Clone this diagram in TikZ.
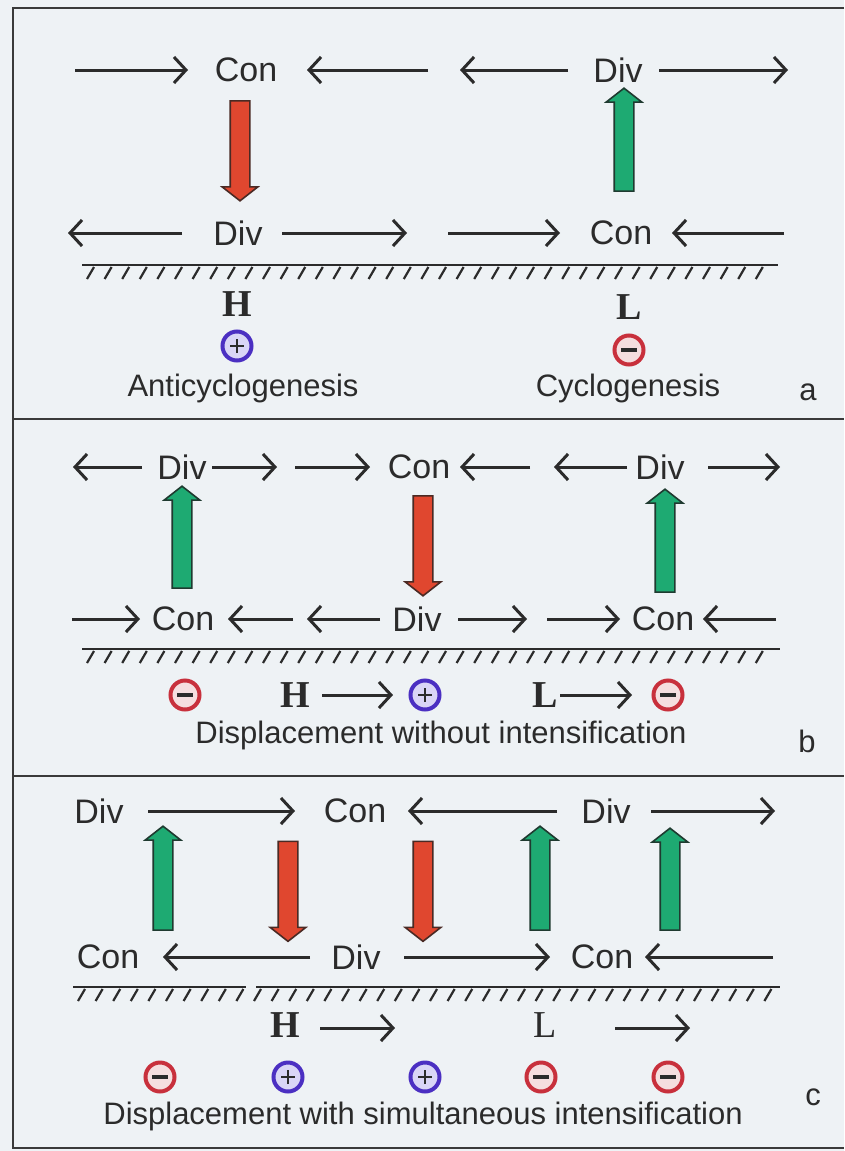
\documentclass[tikz,border=0pt]{standalone}
\usepackage{fontspec}
\setmainfont{Liberation Sans}
\newfontfamily\serifhl{Liberation Serif}
\usetikzlibrary{arrows.meta,shapes.arrows}
\definecolor{bgc}{HTML}{EEF2F5}
\definecolor{ink}{HTML}{2B2B2B}
\definecolor{framec}{HTML}{3A3A3A}
\definecolor{redf}{HTML}{E0472F}
\definecolor{redo}{HTML}{4A2A24}
\definecolor{greenf}{HTML}{1EAA72}
\definecolor{greeno}{HTML}{1F3A30}
\definecolor{blueo}{HTML}{4B2FC2}
\definecolor{bluef}{HTML}{D9D5F6}
\definecolor{redco}{HTML}{C8303C}
\definecolor{redcf}{HTML}{F5DEDF}
\newcommand\harrow[4]{\coordinate (#1s) at (#2,#4); \coordinate (#1e) at (#3,#4); \draw[harr] (#1s) -- (#1e);}
\begin{document}
\begin{tikzpicture}[x=1pt,y=-1pt,
  lab/.style={font=\fontsize{34}{34}\selectfont, text=ink, inner sep=0pt},
  captxt/.style={font=\fontsize{31}{31}\selectfont, text=ink, inner sep=0pt, anchor=base},
  hl/.style={font=\serifhl\bfseries\fontsize{38}{38}\selectfont, text=ink, inner sep=0pt},
  hlr/.style={font=\serifhl\fontsize{38}{38}\selectfont, text=ink, inner sep=0pt},
  harr/.style={draw=ink, line width=3pt, -{Straight Barb[length=12pt,width=26pt]}},
  framel/.style={draw=framec, line width=2.2pt},
  groundl/.style={draw=ink, line width=2.6pt},
  hatch/.style={draw=ink, line width=2.2pt},
  blockarr/.style={single arrow, line width=1.6pt, minimum height=#1, single arrow head extend=8pt,
     inner xsep=0pt, inner ysep=9pt, single arrow tip angle=104},
  uparr/.style={blockarr=#1, draw=greeno, fill=greenf, rotate=90},
  downarr/.style={blockarr=#1, draw=redo, fill=redf, rotate=-90},
  plusc/.style={circle, draw=blueo, fill=bluef, line width=4pt, minimum size=29pt, inner sep=0pt,
     path picture={\draw[line width=2.8pt, ink]
       ([xshift=-7pt]path picture bounding box.center) -- ([xshift=7pt]path picture bounding box.center)
       ([yshift=-7pt]path picture bounding box.center) -- ([yshift=7pt]path picture bounding box.center);}},
  minusc/.style={circle, draw=redco, fill=redcf, line width=4pt, minimum size=29pt, inner sep=0pt,
     path picture={\draw[line width=3.4pt, ink]
       ([xshift=-8pt]path picture bounding box.center) -- ([xshift=8pt]path picture bounding box.center);}}
]
\fill[bgc] (0,0) rectangle (844,1151);
\useasboundingbox (0,0) rectangle (844,1151);
% frame
\draw[framel] (844,8) -- (13,8) -- (13,1148) -- (844,1148);
\draw[framel] (13,419) -- (844,419);
\draw[framel] (13,776) -- (844,776);

% ================= panel a =================
\harrow{a1}{75}{188}{70}
\node[lab] (aCon1) at (246,70) {Con};
\harrow{a2}{428}{307}{70}
\harrow{a3}{568}{460}{70}
\node[lab] (aDiv1) at (618,70) {Div};
\harrow{a4}{659}{788}{70}
\harrow{a5}{182}{68}{233}
\node[lab] (aDiv2) at (238,233) {Div};
\harrow{a6}{282}{407}{233}
\harrow{a7}{448}{560}{233}
\node[lab] (aCon2) at (621,233) {Con};
\harrow{a8}{784}{672}{233}
\node[downarr=100pt] (aRed) at (240,147) {};
\node[uparr=103pt] (aGreen) at (624,143.5) {};
\draw[groundl] (82,265) -- (778,265);
\foreach \i in {0,...,38} {\draw[hatch] ({94+17.6*\i},267) -- ++(-7,12);}
\node[hl] (aH) at (237,304) {H};
\node[plusc] (aPlus) at (237,346) {};
\node[hl] (aL) at (629,307) {L};
\node[minusc] (aMinus) at (629,350) {};
\node[captxt] (aCap1) at (243,396) {Anticyclogenesis};
\node[captxt] (aCap2) at (628,396) {Cyclogenesis};
\node[captxt] (aLet) at (808,400) {a};

% ================= panel b =================
\harrow{b1}{142}{73}{467}
\node[lab] (bDiv1) at (182,467) {Div};
\harrow{b2}{212}{277}{467}
\harrow{b3}{295}{370}{467}
\node[lab] (bCon1) at (419,467) {Con};
\harrow{b4}{530}{460}{467}
\harrow{b5}{627}{554}{467}
\node[lab] (bDiv2) at (660,467) {Div};
\harrow{b6}{708}{780}{467}
\harrow{b7}{72}{140}{619}
\node[lab] (bCon2) at (183,619) {Con};
\harrow{b8}{293}{228}{619}
\harrow{b9}{380}{307}{619}
\node[lab] (bDiv3) at (417,619) {Div};
\harrow{b10}{458}{527}{619}
\harrow{b11}{547}{620}{619}
\node[lab] (bCon3) at (663,619) {Con};
\harrow{b12}{776}{703}{619}
\node[uparr=102pt] (bGreen1) at (182,541) {};
\node[downarr=100pt] (bRed) at (423,542) {};
\node[uparr=103pt] (bGreen2) at (665,544.5) {};
\draw[groundl] (82,649) -- (780,649);
\foreach \i in {0,...,38} {\draw[hatch] ({94+17.6*\i},651) -- ++(-7,12);}
\node[minusc] (bMinus1) at (185,695) {};
\node[hl] (bH) at (295,695) {H};
\harrow{b13}{322}{393}{695}
\node[plusc] (bPlus) at (425,695) {};
\node[hl] (bL) at (545,695) {L};
\harrow{b14}{560}{632}{695}
\node[minusc] (bMinus2) at (668,695) {};
\node[captxt] (bCap) at (441,743) {Displacement without intensification};
\node[captxt] (bLet) at (807,752) {b};

% ================= panel c =================
\node[lab] (cDiv1) at (99,811) {Div};
\harrow{c1}{148}{295}{811}
\node[lab] (cCon1) at (355,811) {Con};
\harrow{c2}{557}{408}{811}
\node[lab] (cDiv2) at (606,811) {Div};
\harrow{c3}{651}{775}{811}
\node[lab] (cCon2) at (108,957) {Con};
\harrow{c4}{310}{163}{957}
\node[lab] (cDiv3) at (356,957) {Div};
\harrow{c5}{404}{550}{957}
\node[lab] (cCon3) at (602,957) {Con};
\harrow{c6}{773}{645}{957}
\node[uparr=104pt] (cGreen1) at (163,882) {};
\node[downarr=100pt] (cRed1) at (288,887.5) {};
\node[downarr=100pt] (cRed2) at (423,887.5) {};
\node[uparr=104pt] (cGreen2) at (540,882) {};
\node[uparr=102pt] (cGreen3) at (670,883) {};
\draw[groundl] (73,987) -- (246,987);
\draw[groundl] (256,987) -- (780,987);
\foreach \i in {0,...,39} {\draw[hatch] ({85+17.6*\i},989) -- ++(-7,12);}
\node[hl] (cH) at (285,1025) {H};
\harrow{c7}{320}{395}{1028}
\node[hlr] (cL) at (545,1025) {L};
\harrow{c8}{615}{690}{1028}
\node[minusc] (cMinus1) at (160,1077) {};
\node[plusc] (cPlus1) at (288,1077) {};
\node[plusc] (cPlus2) at (425,1077) {};
\node[minusc] (cMinus2) at (541,1077) {};
\node[minusc] (cMinus3) at (668,1077) {};
\node[captxt] (cCap) at (423,1124) {Displacement with simultaneous intensification};
\node[captxt] (cLet) at (813,1105) {c};
\end{tikzpicture}
\end{document}
